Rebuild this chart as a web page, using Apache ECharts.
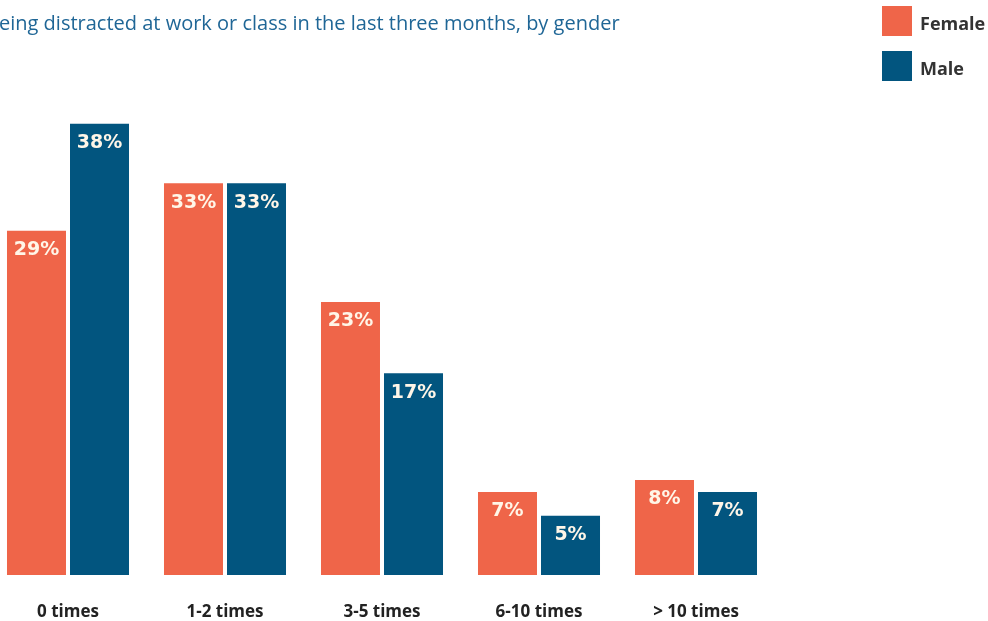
<!DOCTYPE html>
<html><head><meta charset="utf-8">
<script src="https://cdn.jsdelivr.net/npm/echarts@6/dist/echarts.min.js"></script>
<style>html,body{margin:0;padding:0;background:#fff}#c{width:988px;height:621px}</style>
</head><body><div id="c"></div>
<script>
const categories = ['0 times', '1-2 times', '3-5 times', '6-10 times', '> 10 times'];
const female = [29, 33, 23, 7, 8];
const male = [38, 33, 17, 5, 7];
const titleText = 'eing distracted at work or class in the last three months, by gender';

const chart = echarts.init(document.getElementById('c'));
const labelStyle = {
  show: true, position: 'insideTop', distance: 10,
  formatter: p => p.value + '%',
  color: '#FFF6E8', fontSize: 19, fontWeight: 'bold', fontFamily: '"DejaVu Sans", sans-serif'
};
chart.setOption({
  animation: false,
  title: {
    text: titleText, left: -1, top: 14, padding: 0,
    textStyle: { color: '#1F6696', fontSize: 20, fontWeight: 'normal', fontFamily: '"Open Sans", sans-serif' }
  },
  legend: {
    orient: 'vertical', left: 877, top: 1, itemWidth: 30, itemHeight: 30, itemGap: 15,
    icon: 'rect',
    formatter: '{t|{name}}',
    textStyle: {
      color: '#333', fontSize: 18, fontWeight: 'bold', fontFamily: '"Open Sans", sans-serif',
      rich: { t: { color: '#333', fontSize: 18, fontWeight: 'bold', fontFamily: '"Open Sans", sans-serif', padding: [7, 0, 0, 3] } }
    },
    data: ['Female', 'Male']
  },
  grid: { left: 68, width: 628, top: 100, bottom: 45, containLabel: false },
  xAxis: {
    type: 'category', data: categories, boundaryGap: false,
    axisLine: { show: false }, axisTick: { show: false },
    axisLabel: { margin: 29, color: '#222', fontSize: 17, fontWeight: 'bold', fontFamily: '"Open Sans", sans-serif' }
  },
  yAxis: { type: 'value', min: 0, max: 40, show: false, splitLine: { show: false } },
  series: [
    { name: 'Female', type: 'bar', data: female, barWidth: 59, barGap: '6.8%', itemStyle: { color: '#EF6549' }, label: labelStyle },
    { name: 'Male', type: 'bar', data: male, barWidth: 59, itemStyle: { color: '#02557F' }, label: labelStyle }
  ]
});
</script></body></html>
